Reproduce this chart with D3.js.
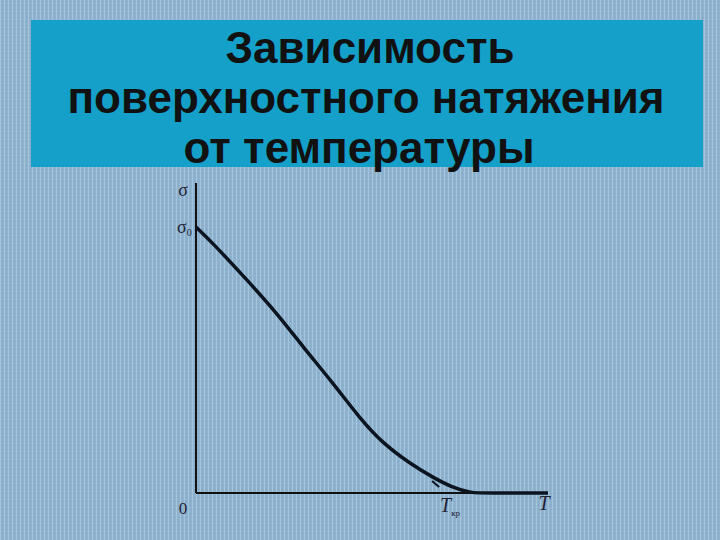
<!DOCTYPE html>
<html><head><meta charset="utf-8">
<script src="https://cdn.jsdelivr.net/npm/d3@7"></script>
<style>body{margin:0;background:#8fb2cc}svg{display:block}</style>
</head><body>
<script>
const titleLines = ["Зависимость", "поверхностного натяжения", "от температуры"];
// curve: temperature (arbitrary units 0..10) vs surface tension (0..10)
const tempValues = [0, 0.48, 1.45, 2.3, 3.04, 3.89, 4.66, 5.31, 6.08, 6.73, 7.30, 7.80, 8.3, 10];
const sigmaValues = [8.58, 8.06, 6.87, 5.8, 4.71, 3.55, 2.40, 1.60, 0.95, 0.50, 0.17, 0.0, 0.0, 0.0];
const axisLabels = {y: "σ", y0: "σ", x: "T", xc: "T", origin: "0"};
const Tcr = 7.9;

const W = 720, H = 540;
const svg = d3.select("body").append("svg").attr("width", W).attr("height", H);

const defs = svg.append("defs");
const pat = defs.append("pattern").attr("id","bgp").attr("width",4).attr("height",4).attr("patternUnits","userSpaceOnUse");
pat.append("rect").attr("width",4).attr("height",4).attr("fill","#8fb3cf");
pat.append("rect").attr("x",0).attr("y",0).attr("width",1).attr("height",4).attr("fill","#a4c4dc");
pat.append("rect").attr("x",2).attr("y",1).attr("width",1).attr("height",1).attr("fill","#7fa1bf");
svg.append("rect").attr("width",W).attr("height",H).attr("fill","url(#bgp)");

svg.append("rect").attr("x",31).attr("y",20).attr("width",672).attr("height",147).attr("fill","#14a0c8");
const titleX = [370, 366, 359];
svg.selectAll("text.title").data(titleLines).enter().append("text")
  .attr("class","title")
  .attr("x",(d,i)=>titleX[i]).attr("y",(d,i)=>63+i*50)
  .attr("text-anchor","middle")
  .attr("font-family","'Liberation Sans', Arial, sans-serif")
  .attr("font-weight","bold").attr("font-size",44).attr("fill","#111")
  .text(d=>d);

const x = d3.scaleLinear().domain([0,10]).range([196,548]);
const y = d3.scaleLinear().domain([0,10]).range([493,183]);

const g = svg.append("g");
g.append("line").attr("x1",x(0)).attr("x2",x(0)).attr("y1",y(10)).attr("y2",y(0)).attr("stroke","#111").attr("stroke-width",2);
g.append("line").attr("x1",x(0)).attr("x2",x(10)).attr("y1",y(0)).attr("y2",y(0)).attr("stroke","#111").attr("stroke-width",2);

const pts = tempValues.map((t,i)=>[t, sigmaValues[i]]);
const line = d3.line().x(d=>x(d[0])).y(d=>y(d[1])).curve(d3.curveBasis);
g.append("path").datum(pts).attr("d",line).attr("fill","none").attr("stroke","#0c1420").attr("stroke-width",3.5);

g.append("line").attr("x1",x(Tcr)-35).attr("y1",y(0)-6).attr("x2",x(Tcr)-42).attr("y2",y(0)-12)
  .attr("stroke","#0c1420").attr("stroke-width",2);

const serif = "'Liberation Serif','Times New Roman',serif";
g.append("text").attr("x",183).attr("y",196).attr("text-anchor","middle").attr("font-family",serif).attr("font-size",18).attr("fill","#223").text(axisLabels.y);
const s0 = g.append("text").attr("x",177).attr("y",233).attr("font-family",serif).attr("font-size",18).attr("fill","#223").text(axisLabels.y0);
s0.append("tspan").attr("font-size",10).attr("dy",3).text("0");
g.append("text").attr("x",183).attr("y",514).attr("text-anchor","middle").attr("font-family",serif).attr("font-size",17).attr("fill","#223").text(axisLabels.origin);
g.append("text").attr("x",x(10)-4).attr("y",510).attr("text-anchor","middle").attr("font-family",serif).attr("font-style","italic").attr("font-size",20).attr("fill","#223").text(axisLabels.x);
const tc = g.append("text").attr("x",x(Tcr)-34).attr("y",512).attr("font-family",serif).attr("font-style","italic").attr("font-size",20).attr("fill","#223").text(axisLabels.xc);
tc.append("tspan").attr("font-size",9).attr("font-style","normal").attr("dy",4).text("кр");
</script>
</body></html>
